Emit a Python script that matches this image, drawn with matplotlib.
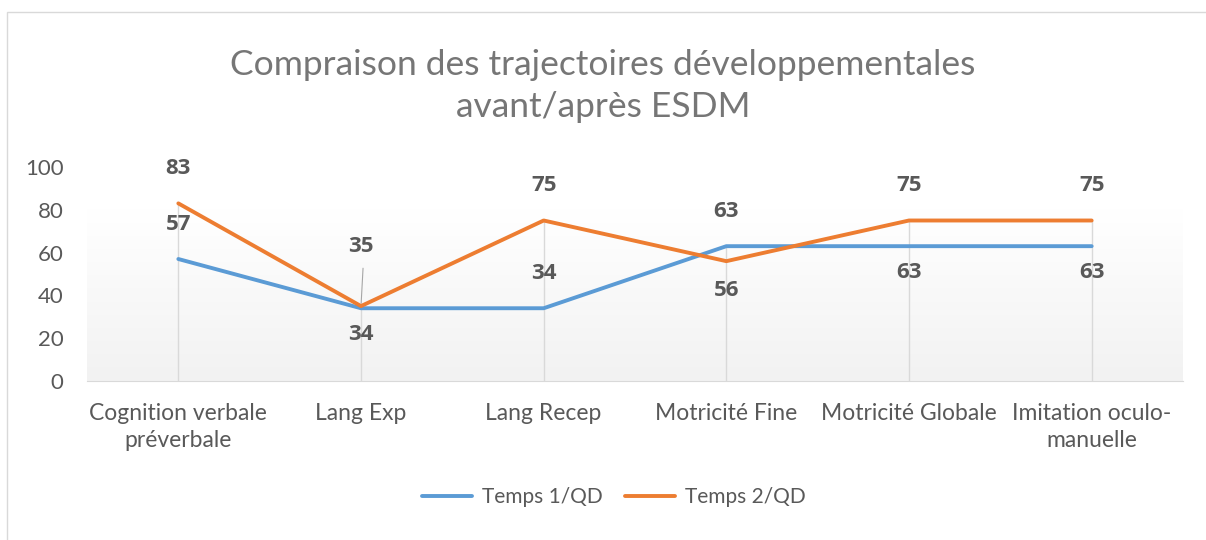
import numpy as np
import matplotlib.pyplot as plt
from matplotlib.colors import LinearSegmentedColormap
from matplotlib.patches import Rectangle

categories = ["Cognition verbale\npréverbale", "Lang Exp", "Lang Recep",
              "Motricité Fine", "Motricité Globale", "Imitation oculo-\nmanuelle"]
temps1 = [57, 34, 34, 63, 63, 63]
temps2 = [83, 35, 75, 56, 75, 75]
# label placement: +1 above, -1 below (as in the original chart)
pos1 = [1, -1, 1, 1, -1, -1]
pos2 = [1, 1, 1, -1, 1, 1]

plt.rcParams["font.family"] = ["Lato", "DejaVu Sans"]
grey = "#595959"
blue = "#5B9BD5"
orange = "#ED7D31"

fig = plt.figure(figsize=(12.06, 5.4), dpi=100)
W, H = 1206, 540
ax = fig.add_axes([87 / W, 1 - 381 / H, (1183 - 87) / W, (381 - 167) / H])

x = np.arange(len(categories))
ax.set_xlim(-0.5, len(categories) - 0.5)
ax.set_ylim(0, 100)

# gradient plot-area fill (light grey at bottom -> white at top)
grad = np.linspace(0, 1, 256).reshape(-1, 1)
ax.imshow(grad, extent=(-0.5, len(categories) - 0.5, 0, 80), aspect="auto",
          cmap=LinearSegmentedColormap.from_list("g", ["#f2f2f2", "#ffffff"]),
          zorder=0, origin="lower")

# drop lines
for xi, a, b in zip(x, temps1, temps2):
    ax.plot([xi, xi], [0, max(a, b)], color="#d9d9d9", lw=1, zorder=1)

ax.plot(x, temps1, color=blue, lw=2.8, label="Temps 1/QD", zorder=3,
        solid_capstyle="round")
ax.plot(x, temps2, color=orange, lw=2.8, label="Temps 2/QD", zorder=4,
        solid_capstyle="round")

lab = dict(ha="center", va="center", fontsize=16, fontweight="bold", color=grey,
           textcoords="offset points", family=["Open Sans", "DejaVu Sans"])
for xi, v, p in zip(x, temps1, pos1):
    ax.annotate(str(v), (xi, v), xytext=(0, 25 if p > 0 else -19), **lab)
for xi, v, p in zip(x, temps2, pos2):
    off = 25 if p > 0 else -21
    if xi == 1:
        off = 43
    ax.annotate(str(v), (xi, v), xytext=(0, off), **lab)
# leader line for Lang Exp label
ax.annotate("", (1, 35), xytext=(1.012, 54),
            arrowprops=dict(arrowstyle="-", color="#a6a6a6", lw=0.8))

ax.set_xticks(x)
ax.set_xticklabels(categories, fontsize=16.5, color=grey, linespacing=1.35)
ax.set_yticks(range(0, 101, 20))
ax.tick_params(axis="y", labelsize=16, labelcolor=grey, length=0, pad=17)
ax.tick_params(axis="x", length=0, pad=16)
for s in ["top", "right", "left"]:
    ax.spines[s].set_visible(False)
ax.spines["bottom"].set_color("#d9d9d9")
ax.spines["bottom"].set_zorder(2)

fig.text(0.5, 1 - 86 / H, "Compraison des trajectoires développementales\navant/après ESDM",
         ha="center", va="center", fontsize=25.5, color="#767676", linespacing=1.35)

fig.legend(loc="center", bbox_to_anchor=(614 / W, 1 - 497 / H), ncol=2, frameon=False,
           fontsize=15, labelcolor=grey, handlelength=2.4, columnspacing=1.1,
           handletextpad=0.45)

fig.patches.append(Rectangle((7 / W, -0.1), 1.2, 1 - 12 / H + 0.1, transform=fig.transFigure,
                             fill=False, edgecolor="#d9d9d9", lw=1))

fig.savefig("out.png", dpi=100)
